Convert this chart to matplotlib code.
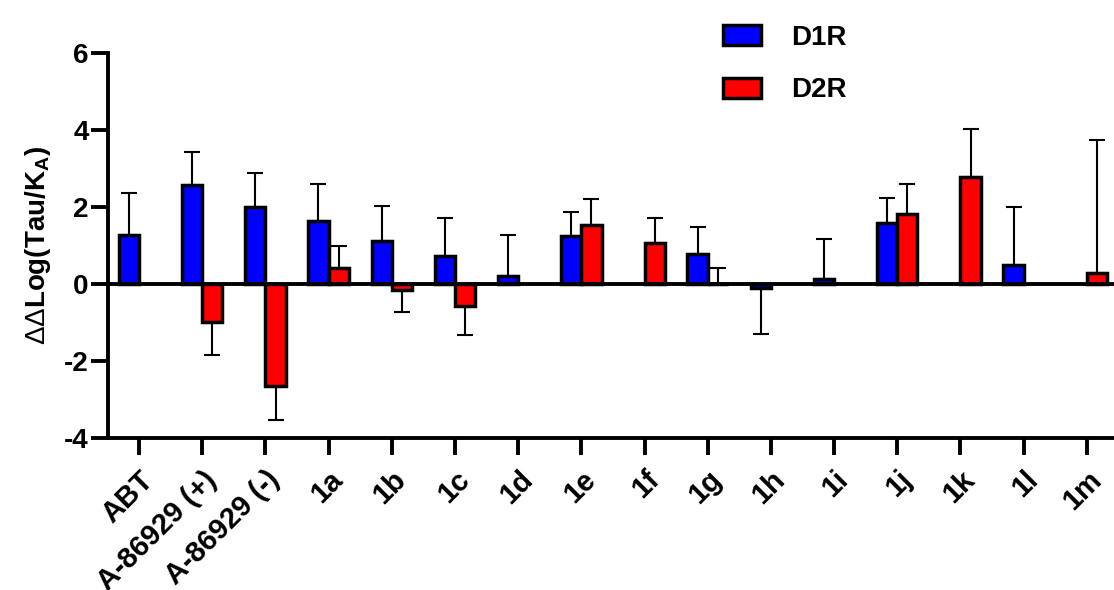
import numpy as np
import matplotlib
matplotlib.use("Agg")
import matplotlib.pyplot as plt
import matplotlib.transforms as mtransforms

plt.rcParams['font.family'] = ['Liberation Sans', 'DejaVu Sans']
plt.rcParams['mathtext.fontset'] = 'custom'
plt.rcParams['mathtext.rm'] = 'Liberation Sans'
plt.rcParams['mathtext.bf'] = 'Liberation Sans:bold'
plt.rcParams['axes.unicode_minus'] = False

# categories
compounds = ['ABT', 'A-86929 (+)', 'A-86929 (-)', '1a', '1b', '1c', '1d', '1e',
             '1f', '1g', '1h', '1i', '1j', '1k', '1l', '1m']

# mean values (NaN = no bar)
d1r = [1.27, 2.57, 2.00, 1.64, 1.12, 0.73, 0.20, 1.25,
       np.nan, 0.78, -0.10, 0.13, 1.58, np.nan, 0.49, np.nan]
d2r = [np.nan, -0.99, -2.65, 0.42, -0.16, -0.57, np.nan, 1.53,
       1.07, 0.01, np.nan, np.nan, 1.82, 2.78, np.nan, 0.29]

# one-sided error (SD) in the direction of the bar
d1r_err = [1.09, 0.86, 0.88, 0.96, 0.91, 0.98, 1.07, 0.62,
           np.nan, 0.70, 1.20, 1.04, 0.65, np.nan, 1.51, np.nan]
d2r_err = [np.nan, 0.85, 0.88, 0.57, 0.57, 0.75, np.nan, 0.67,
           0.64, 0.41, np.nan, np.nan, 0.78, 1.25, np.nan, 3.45]

fig = plt.figure(figsize=(11.14, 5.9), dpi=100)
ax = fig.add_axes([0.097, 0.258, 0.903, 0.652])

x = np.arange(len(compounds))
w = 0.32

for vals, errs, off, col, lab in [(d1r, d1r_err, -w / 2, '#0000ff', 'D1R'),
                                  (d2r, d2r_err, w / 2, '#ff0000', 'D2R')]:
    vals = np.array(vals)
    errs = np.array(errs)
    ax.bar(x + off, vals, w, color=col, edgecolor='black', linewidth=2.5,
           label=lab, zorder=2)
    lower = np.where(vals < 0, errs, 0)
    upper = np.where(vals >= 0, errs, 0)
    ax.errorbar(x + off, vals, yerr=[lower, upper], fmt='none',
                ecolor='black', elinewidth=1.5, capsize=6, capthick=1.5,
                zorder=1)

ax.axhline(0, color='black', linewidth=2.8, zorder=3)

ax.set_xlim(-0.49, 15.43)
ax.set_ylim(-4, 6)
ax.set_yticks([-4, -2, 0, 2, 4, 6])
ax.set_xticks(x)
ax.set_xticklabels(compounds, rotation=45, ha='right', rotation_mode='anchor',
                   fontsize=21, fontweight='bold')
shift = mtransforms.ScaledTranslation(7 / 100, 0, fig.dpi_scale_trans)
for t in ax.get_xticklabels():
    t.set_transform(t.get_transform() + shift)
for t in ax.get_yticklabels():
    t.set_fontsize(20)
    t.set_fontweight('bold')

ax.spines['top'].set_visible(False)
ax.spines['right'].set_visible(False)
ax.spines['left'].set_linewidth(2.8)
ax.spines['bottom'].set_linewidth(2.8)
ax.tick_params(axis='x', length=12, width=2.8, pad=8)
ax.tick_params(axis='y', length=12, width=2.8, pad=2)

ax.set_ylabel(r'$\Delta\Delta$Log(Tau/K$_{\mathbf{A}}$)', fontsize=20,
              fontweight='bold', labelpad=8)

fig.legend(loc='upper left', bbox_to_anchor=(0.627, 1.0), frameon=False,
           prop={'size': 20, 'weight': 'bold'}, handlelength=1.35,
           handleheight=0.75, labelspacing=0.95, handletextpad=1.1)

fig.savefig('out.png', dpi=100)
